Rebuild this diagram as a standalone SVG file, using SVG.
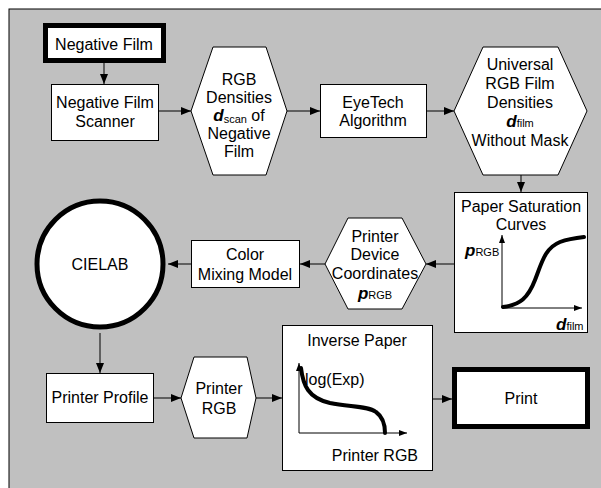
<svg xmlns="http://www.w3.org/2000/svg" width="601" height="488" viewBox="0 0 601 488">
<defs>
<marker id="ah" viewBox="0 0 10 8" refX="10" refY="4" markerWidth="10" markerHeight="8" markerUnits="userSpaceOnUse" orient="auto"><path d="M0,0 L10,4 L0,8 z" fill="#000"/></marker>
<marker id="sa" viewBox="0 0 8 6" refX="8" refY="3" markerWidth="8" markerHeight="6" markerUnits="userSpaceOnUse" orient="auto"><path d="M0,0 L8,3 L0,6 z" fill="#000"/></marker>
</defs>
<style>
.n{fill:#fff;stroke:#000;stroke-width:1}
.k{fill:#fff;stroke:#000;stroke-width:5}
text{font-family:"Liberation Sans",Arial,sans-serif;font-size:16px;fill:#000}
.c{text-anchor:middle}
.b{font-weight:bold;font-style:italic;font-size:17px}
.s{font-size:11px}
.e{fill:none;stroke:#000;stroke-width:1;marker-end:url(#ah)}
.ax{fill:none;stroke:#000;stroke-width:1;marker-end:url(#sa)}
.cv{fill:none;stroke:#000;stroke-width:4;stroke-linecap:round}
</style>
<rect x="9" y="9" width="600" height="490" fill="#c0c0c0" stroke="#000" stroke-width="1"/>
<g id="connectors">
<path class="e" d="M104,63 V84"/>
<path class="e" d="M159,111 H191"/>
<path class="e" d="M287,111 H320"/>
<path class="e" d="M427,111 H454"/>
<path class="e" d="M521,175 V192"/>
<path class="e" d="M454,264 H426"/>
<path class="e" d="M325,264 H300"/>
<path class="e" d="M191,264 H168"/>
<path class="e" d="M100,333 V373"/>
<path class="e" d="M153,398 H181"/>
<path class="e" d="M256,398 H282"/>
<path class="e" d="M432,399 H452"/>
</g>
<g id="negative-film">
<rect class="k" x="45.5" y="25.5" width="118" height="35"/>
<text class="c" x="104" y="50">Negative Film</text>
</g>
<g id="scanner">
<rect class="n" x="51.5" y="84.5" width="107" height="56"/>
<text class="c" x="105" y="108">Negative Film</text>
<text class="c" x="105" y="127">Scanner</text>
</g>
<g id="rgb-densities">
<polygon class="n" points="191,111 213,47 266,47 287,111 266,175 213,175"/>
<text class="c" x="239" y="84.5">RGB</text>
<text class="c" x="239" y="102.5">Densities</text>
<text class="c" x="239" y="120.5"><tspan class="b">d</tspan><tspan class="s" dy="2">scan</tspan><tspan dy="-2"> of</tspan></text>
<text class="c" x="239" y="138.5">Negative</text>
<text class="c" x="239" y="156.5">Film</text>
</g>
<g id="eyetech">
<rect class="n" x="320.5" y="84.5" width="106" height="53"/>
<text class="c" x="373" y="108">EyeTech</text>
<text class="c" x="373" y="126">Algorithm</text>
</g>
<g id="universal">
<polygon class="n" points="454,111 483,47 558,47 587,111 558,175 483,175"/>
<text class="c" x="520" y="70">Universal</text>
<text class="c" x="520" y="89">RGB Film</text>
<text class="c" x="520" y="108">Densities</text>
<text class="c" x="520" y="127"><tspan class="b">d</tspan><tspan class="s">film</tspan></text>
<text class="c" x="520" y="146">Without Mask</text>
</g>
<g id="paper-saturation">
<rect class="n" x="454.5" y="192.5" width="133" height="140"/>
<text class="c" x="521" y="212">Paper Saturation</text>
<text class="c" x="521" y="230">Curves</text>
<path class="ax" d="M502,308 V235"/>
<path class="ax" d="M502,308 H582"/>
<path class="cv" d="M503,307 C520,305 528,298 535,280 C542,262 545,248 560,242 C568,239 575,238 584,237"/>
<text x="465" y="256"><tspan class="b">p</tspan><tspan class="s">RGB</tspan></text>
<text x="556" y="330"><tspan class="b">d</tspan><tspan class="s">film</tspan></text>
</g>
<g id="printer-device">
<polygon class="n" points="325,264 348,218 402,218 426,264 402,309 348,309"/>
<text class="c" x="375" y="242">Printer</text>
<text class="c" x="375" y="260">Device</text>
<text class="c" x="375" y="279">Coordinates</text>
<text class="c" x="375" y="299"><tspan class="b">p</tspan><tspan class="s">RGB</tspan></text>
</g>
<g id="color-mixing">
<rect class="n" x="191.5" y="240.5" width="108" height="47"/>
<text class="c" x="245" y="260">Color</text>
<text class="c" x="245" y="280">Mixing Model</text>
</g>
<g id="cielab">
<circle class="k" cx="100" cy="264" r="63"/>
<text class="c" x="100" y="270">CIELAB</text>
</g>
<g id="printer-profile">
<rect class="n" x="46.5" y="373.5" width="107" height="49"/>
<text class="c" x="100" y="403">Printer Profile</text>
</g>
<g id="printer-rgb">
<polygon class="n" points="181,398 194,357 247,357 256,398 247,438 194,438"/>
<text class="c" x="219" y="394">Printer</text>
<text class="c" x="219" y="414">RGB</text>
</g>
<g id="inverse-paper">
<rect class="n" x="282.5" y="325.5" width="150" height="145"/>
<text class="c" x="357" y="346">Inverse Paper</text>
<path class="ax" d="M299,433 V363"/>
<path class="ax" d="M299,433 H407"/>
<path class="cv" d="M301,368 C303,385 308,398 330,403 C350,407 368,406 376,412 C383,417 385,425 385,433"/>
<text x="305" y="385">log(Exp)</text>
<text x="418" y="461" text-anchor="end">Printer RGB</text>
</g>
<g id="print">
<rect class="k" x="454.5" y="369.5" width="133" height="57"/>
<text class="c" x="521" y="404">Print</text>
</g>
</svg>
